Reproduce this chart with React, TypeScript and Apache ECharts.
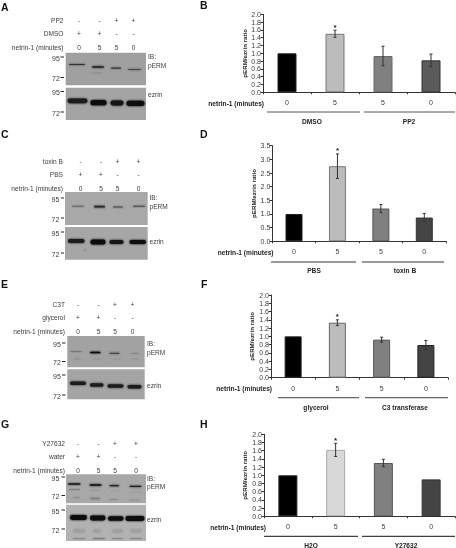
import React, { useEffect, useRef } from "react";
import * as echarts from "echarts";

const categories = ["0", "5", "5", "0"];
const valuesB = [1.0, 1.5, 0.93, 0.82];
const errorsB = [0, 0.09, 0.25, 0.16];
const valuesD = [1.0, 2.75, 1.2, 0.87];
const errorsD = [0, 0.45, 0.15, 0.15];
const valuesF = [1.0, 1.33, 0.92, 0.79];
const errorsF = [0, 0.07, 0.06, 0.11];
const valuesH = [1.0, 1.62, 1.3, 0.9];
const errorsH = [0, 0.16, 0.09, 0];
const stars = ["", "*", "", ""];
const lanes = ["0", "5", "5", "0"];

const FONT = "Liberation Sans, Arial, sans-serif";
const TXT = "#3c3c3c";

const panels = [
  { v: valuesB, e: errorsB, max: 2, step: 0.2, l: 263, r: 455, t: 14.3, b: 92.3, bw: 19, nameGap: 15,
    fills: ["#000000", "#bcbcbc", "#808080", "#5a5a5a"], borders: ["#222", "#777", "#666", "#333"] },
  { v: valuesD, e: errorsD, max: 3.5, step: 0.5, l: 272.3, r: 446, t: 145.7, b: 241.3, bw: 17, nameGap: 16,
    fills: ["#000000", "#bcbcbc", "#808080", "#444444"], borders: ["#222", "#777", "#555", "#333"] },
  { v: valuesF, e: errorsF, max: 2, step: 0.2, l: 271, r: 448, t: 295, b: 377.7, bw: 17, nameGap: 17,
    fills: ["#000000", "#bcbcbc", "#808080", "#444444"], borders: ["#222", "#666", "#555", "#222"] },
  { v: valuesH, e: errorsH, max: 2, step: 0.2, l: 264, r: 455, t: 434.3, b: 516.3, bw: 19, nameGap: 17,
    fills: ["#000000", "#d8d8d8", "#808080", "#444444"], borders: ["#222", "#aaa", "#555", "#333"] },
];

const label = (text: string, x: number, y: number, opts: any = {}) => ({
  type: "text", x, y,
  style: {
    text, fontFamily: FONT, fontSize: opts.size ?? 6.6, fontWeight: opts.bold ? "bold" : "normal",
    fill: opts.fill ?? TXT, align: opts.align ?? "left", verticalAlign: "middle",
  },
});
const rule = (x1: number, x2: number, y: number, stroke: string, w: number) => ({
  type: "line", shape: { x1, y1: y, x2, y2: y }, style: { stroke, lineWidth: w },
});

const band = (x1: number, x2: number, y: number, h: number, color: string) => ({
  type: "rect",
  shape: { x: x1, y: y - h / 2, width: x2 - x1, height: h, r: h / 2 },
  style: { fill: color, shadowBlur: 2.5, shadowColor: color },
});
const sheet = (x1: number, x2: number, y1: number, y2: number, fill: string) => ({
  type: "rect", shape: { x: x1, y: y1, width: x2 - x1, height: y2 - y1 }, style: { fill },
});

function blotLabels(rows: [string, string[]][], rowY: number[], right: number, colX: number[]) {
  const out: any[] = [];
  rows.forEach(([name, cells], i) => {
    out.push(label(name, right, rowY[i], { align: "right" }));
    cells.forEach((c, j) => out.push(label(c, colX[j], rowY[i], { align: "center" })));
  });
  return out;
}

function mass(textX: number, dash: [number, number], marks: [string, number][]) {
  const out: any[] = [];
  marks.forEach(([t, y]) => {
    out.push(label(t, textX, y, { align: "center", size: 7 }));
    out.push(rule(dash[0], dash[1], y - 1, "#222", 1));
  });
  return out;
}

const plus = ["+", "+", "-", "-"];
const minus = ["-", "-", "+", "+"];

const graphics: any[] = [
  label("A", 1, 7, { bold: true, size: 10.5, fill: "#111" }),
  label("B", 200, 5, { bold: true, size: 10.5, fill: "#111" }),
  label("C", 1, 134, { bold: true, size: 10.5, fill: "#111" }),
  label("D", 200, 134, { bold: true, size: 10.5, fill: "#111" }),
  label("E", 1, 284, { bold: true, size: 10.5, fill: "#111" }),
  label("F", 201, 284, { bold: true, size: 10.5, fill: "#111" }),
  label("G", 1, 424, { bold: true, size: 10.5, fill: "#111" }),
  label("H", 200, 424, { bold: true, size: 10.5, fill: "#111" }),

  // A blot
  ...blotLabels([["PP2", minus], ["DMSO", plus], ["netrin-1 (minutes)", lanes]], [20, 33.5, 47], 63.5, [79, 99.5, 116.5, 133.5]),
  sheet(65.7, 146, 52.7, 85.3, "#a0a0a0"),
  band(69, 85, 64.5, 1.2, "#333"), band(92, 104, 67, 1.6, "#222"), band(111, 121, 68.2, 1.2, "#3a3a3a"), band(128, 141, 69.5, 1.2, "#4a4a4a"),
  band(92, 102, 73, 0.8, "#8c8c8c"),
  sheet(65.7, 146, 87.7, 120, "#a4a4a4"),
  band(67.5, 87.5, 100.8, 4.8, "#1a1a1a"), band(90.5, 106.5, 102.7, 5.2, "#111"), band(110.5, 123.5, 103, 4.8, "#141414"), band(126.5, 144.5, 103.3, 5.2, "#111"),
  ...mass(56, [60.5, 64], [["95", 58], ["72", 78.5], ["95", 92.5], ["72", 113]]),
  label("IB:", 148, 56), label("pERM", 148, 65), label("ezrin", 148, 94),

  // C blot
  ...blotLabels([["toxin B", minus], ["PBS", plus], ["netrin-1 (minutes)", lanes]], [161, 174.5, 188], 63, [80.5, 101, 117.5, 138.5]),
  sheet(65, 147.7, 192, 225, "#a8a8a8"),
  band(72, 84, 206.3, 1, "#666"), band(94, 105, 206.7, 1.8, "#2a2a2a"), band(113, 123, 207, 1.2, "#4a4a4a"), band(133, 145, 206.3, 1, "#4a4a4a"),
  sheet(65, 147.7, 227, 259.7, "#a6a6a6"),
  band(68, 84.5, 241, 4.2, "#1a1a1a"), band(90.5, 105.5, 242, 5, "#111"), band(109.5, 123.5, 242, 4.2, "#141414"), band(129.5, 146, 242, 4.2, "#111"),
  band(84, 86, 250, 1, "#808080"),
  ...mass(55.5, [61, 64], [["95", 199], ["72", 219], ["95", 233], ["72", 254]]),
  label("IB:", 149.5, 197), label("pERM", 149.5, 206), label("ezrin", 149.5, 241.5),

  // E blot
  ...blotLabels([["C3T", minus], ["glycerol", plus], ["netrin-1 (minutes)", lanes]], [304, 317.5, 331.5], 65, [78, 98.5, 115, 132.5]),
  sheet(67.3, 144.7, 336, 367.3, "#a2a2a2"),
  band(70.5, 81.5, 351.5, 0.8, "#777"), band(90, 100.5, 352.5, 1.6, "#111"), band(109.5, 119.5, 353.3, 1.2, "#4a4a4a"), band(130.5, 139, 353.3, 0.8, "#808080"),
  band(73, 81, 359, 0.8, "#909090"), band(93, 101, 359, 0.8, "#949494"), band(113, 121, 359, 0.8, "#949494"), band(131, 139, 359, 0.8, "#949494"),
  sheet(67.3, 144.7, 369.3, 399.3, "#a4a4a4"),
  band(70, 86, 383.3, 3.6, "#1c1c1c"), band(90, 103.5, 385, 3.6, "#1c1c1c"), band(107.5, 123.5, 386, 3.6, "#1c1c1c"), band(127.5, 141.5, 386.7, 3.6, "#1c1c1c"),
  ...mass(57, [62, 65.5], [["95", 344], ["72", 362.5], ["95", 376], ["72", 396]]),
  label("IB:", 147, 343), label("pERM", 147, 352), label("ezrin", 147, 385),

  // G blot
  ...blotLabels([["Y27632", minus], ["water", plus], ["netrin-1 (minutes)", lanes]], [443, 456.5, 470.5], 65, [78, 98.5, 115, 136]),
  sheet(66, 146, 474.3, 503.3, "#a8a8a8"),
  band(68, 80.5, 484, 1.3, "#1c1c1c"), band(89.5, 101.5, 485, 1.5, "#111"), band(109.5, 119, 485.7, 1.3, "#222"), band(129.5, 141.5, 486.3, 1.3, "#222"),
  band(69, 80, 489.5, 0.8, "#808080"), band(90, 101, 490, 0.7, "#909090"), band(111, 119, 491, 0.7, "#949494"), band(130, 141, 492, 0.7, "#949494"),
  band(73, 80, 497.5, 1.2, "#8a8a8a"), band(90, 100, 498.5, 1.6, "#808080"), band(109, 118, 499.5, 1.2, "#909090"), band(129, 140, 500, 1.2, "#949494"),
  sheet(66, 146, 504.7, 541, "#b2b2b2"),
  band(70, 87, 517.5, 4.8, "#0c0c0c"), band(90, 105.5, 518, 4.8, "#0c0c0c"), band(108, 123.5, 518.5, 4.4, "#111"), band(125.5, 144.5, 518.5, 4.8, "#0c0c0c"),
  band(73, 85, 531, 4, "#a0a0a0"), band(93, 101, 531, 4, "#a2a2a2"), band(112, 123, 531, 4, "#a0a0a0"), band(130, 142, 531, 4, "#a2a2a2"),
  band(73, 85, 538.5, 0.8, "#888"), band(93, 105, 538.5, 1, "#7a7a7a"), band(112, 123, 538.5, 0.8, "#888"), band(130, 142, 538.5, 0.8, "#888"),
  ...mass(55.5, [61.5, 65], [["95", 478], ["72", 496.5], ["95", 511], ["72", 530]]),
  label("IB:", 147, 478), label("pERM", 147, 486), label("ezrin", 147, 519.5),

  // bar panel footers
  label("netrin-1 (minutes)", 264, 103, { bold: true, align: "right", fill: "#222" }),
  rule(267, 360, 112, "#555", 1), rule(364, 455, 112, "#555", 1),
  label("DMSO", 312, 121.7, { bold: true, align: "center", fill: "#222" }),
  label("PP2", 409, 121.7, { bold: true, align: "center", fill: "#222" }),

  label("netrin-1 (minutes)", 273.5, 252.5, { bold: true, align: "right", fill: "#222" }),
  rule(271, 356, 262, "#777", 1.4), rule(362, 444, 262, "#777", 1.4),
  label("PBS", 314, 270.5, { bold: true, align: "center", fill: "#222" }),
  label("toxin B", 405, 270.5, { bold: true, align: "center", fill: "#222" }),

  label("netrin-1 (minutes)", 272, 388.7, { bold: true, align: "right", fill: "#222" }),
  rule(278, 359, 397.7, "#666", 1.2), rule(365, 448, 397.7, "#666", 1.2),
  label("glycerol", 316, 407, { bold: true, align: "center", fill: "#222" }),
  label("C3 transferase", 405, 407, { bold: true, align: "center", fill: "#222" }),

  label("netrin-1 (minutes)", 266, 527, { bold: true, align: "right", fill: "#222" }),
  rule(264, 358, 536.3, "#111", 1), rule(362, 455, 536.3, "#111", 1),
  label("H2O", 311, 545, { bold: true, align: "center", fill: "#222" }),
  label("Y27632", 406, 545, { bold: true, align: "center", fill: "#222" }),
];

function buildOption() {
  const grid = panels.map((p) => ({
    left: p.l, width: p.r - p.l, top: p.t, height: p.b - p.t, containLabel: false,
  }));
  const xAxis = panels.map((_, i) => ({
    type: "category", gridIndex: i, data: categories,
    axisLine: { lineStyle: { color: "#333", width: 1 } },
    axisTick: { show: true, length: 2, lineStyle: { color: "#333" } },
    axisLabel: { fontFamily: FONT, fontSize: 7, color: TXT, margin: 7 },
  }));
  const yAxis = panels.map((p, i) => ({
    type: "value", gridIndex: i, min: 0, max: p.max, interval: p.step,
    name: "pERM/ezrin ratio", nameLocation: "middle", nameGap: p.nameGap,
    nameTextStyle: { fontFamily: FONT, fontSize: 6.2, fontWeight: "bold", color: "#222" },
    splitLine: { show: false },
    axisLine: { show: true, lineStyle: { color: "#333", width: 1 } },
    axisTick: { show: true, length: 2.5, lineStyle: { color: "#333" } },
    axisLabel: { fontFamily: FONT, fontSize: 7, color: TXT, margin: 2, formatter: (v: number) => v.toFixed(1) },
  }));
  const series: any[] = [];
  panels.forEach((p, i) => {
    series.push({
      type: "bar", xAxisIndex: i, yAxisIndex: i, barWidth: p.bw,
      data: p.v.map((v, j) => ({
        value: v,
        itemStyle: { color: p.fills[j], borderColor: p.borders[j], borderWidth: 1 },
      })),
    });
    series.push({
      type: "custom", xAxisIndex: i, yAxisIndex: i, z: 5, silent: true,
      encode: { x: 0, y: 1 },
      data: p.v.map((v, j) => [j, v, p.e[j]]),
      renderItem: (_: any, api: any) => {
        const j = api.value(0), v = api.value(1), e = api.value(2);
        const [x, hi] = api.coord([j, v + e]);
        const [, lo] = api.coord([j, v - e]);
        const children: any[] = [];
        const style = { stroke: "#333", lineWidth: 1, fill: "none" };
        if (e > 0) {
          children.push({ type: "line", shape: { x1: x, y1: hi, x2: x, y2: lo }, style });
          children.push({ type: "line", shape: { x1: x - 1.5, y1: hi, x2: x + 1.5, y2: hi }, style });
          children.push({ type: "line", shape: { x1: x - 1.5, y1: lo, x2: x + 1.5, y2: lo }, style });
        }
        if (stars[j]) {
          children.push({
            type: "text",
            style: { text: stars[j], x, y: hi - 3, align: "center", verticalAlign: "middle", fontFamily: FONT, fontSize: 8, fontWeight: "bold", fill: "#222" },
          });
        }
        return { type: "group", children };
      },
    });
  });
  return { animation: false, backgroundColor: "#fff", grid, xAxis, yAxis, series, graphic: graphics };
}

export default function App() {
  const ref = useRef<HTMLDivElement>(null);
  useEffect(() => {
    const chart = echarts.init(ref.current!, null, { renderer: "svg" });
    chart.setOption(buildOption());
    return () => chart.dispose();
  }, []);
  return <div ref={ref} style={{ position: "absolute", left: 0, top: 0, width: 456, height: 548, filter: "blur(0.4px)" }} />;
}
